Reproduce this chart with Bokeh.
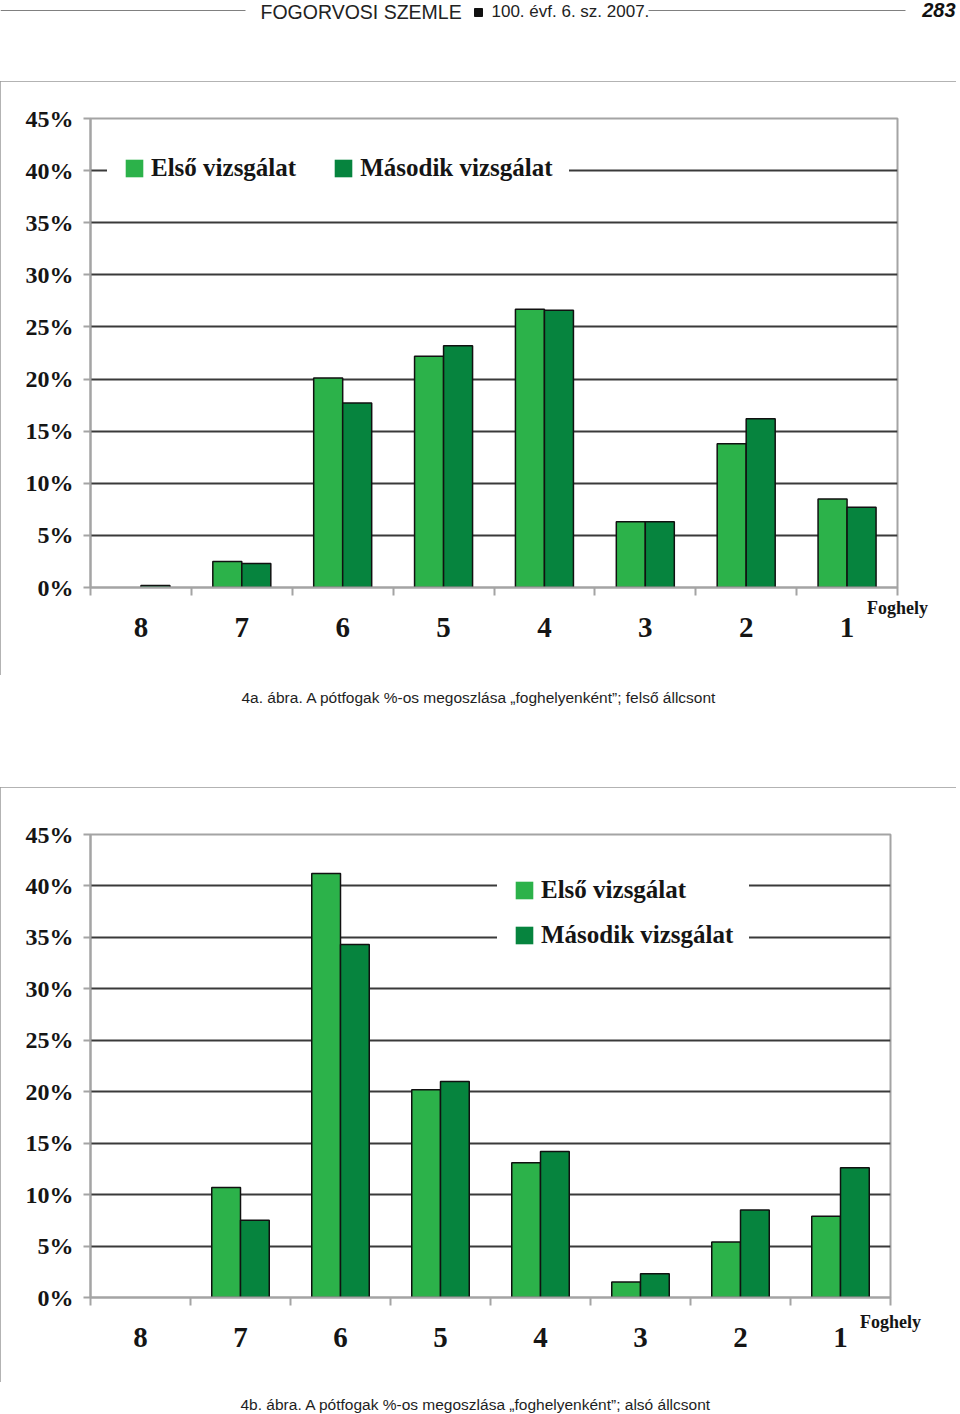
import numpy as np
from bokeh.plotting import figure
from bokeh.models import (ColumnDataSource, FixedTicker, Legend, LegendItem, Label,
                          Range1d, PrintfTickFormatter, CustomJSTickFormatter,
                          CDSView, BooleanFilter, LinearAxis)
from bokeh.transform import dodge
from bokeh.embed import file_html
from bokeh.resources import INLINE

# ---------------- data ----------------
categories = ["8", "7", "6", "5", "4", "3", "2", "1"]
series_names = ["Első vizsgálat", "Második vizsgálat"]
upper_first = [0.0, 2.5, 20.1, 22.2, 26.7, 6.3, 13.8, 8.5]
upper_second = [0.2, 2.3, 17.7, 23.2, 26.6, 6.3, 16.2, 7.7]
lower_first = [0.0, 10.7, 41.2, 20.2, 13.1, 1.5, 5.4, 7.9]
lower_second = [0.0, 7.5, 34.3, 21.0, 14.2, 2.3, 8.5, 12.6]
y_ticks = [0, 5, 10, 15, 20, 25, 30, 35, 40, 45]
axis_title = "Foghely"
header_title = "FOGORVOSI SZEMLE"
header_issue = "100. évf. 6. sz. 2007."
page_number = "283"
caption_a = "4a. ábra. A pótfogak %-os megoszlása „foghelyenként”; felső állcsont"
caption_b = "4b. ábra. A pótfogak %-os megoszlása „foghelyenként”;  alsó állcsont"

# ---------------- style ----------------
LIGHT = "#2cb24a"
DARK = "#06843e"
SERIF = "Liberation Serif"
SANS = "Liberation Sans"
GRAY = "#a4a4a4"
INK = "#151515"
W = 956
FRAME_CSS = {"outline": "1px solid #9a9a9a", "outline-offset": "-1px",
             "position": "relative", "z-index": "1"}


def make_chart(first, second, height, top, bottom, right, orientation, loc, spacing,
               title_standoff, cat_standoff):
    n = len(categories)
    centers = list(np.arange(n) + 0.5)
    src = ColumnDataSource(dict(x=centers, first=first, second=second))
    p = figure(width=W, height=height, x_range=Range1d(0, n), y_range=Range1d(0, 45),
               output_backend="svg", toolbar_location=None,
               min_border_left=90, min_border_right=right,
               min_border_top=top, min_border_bottom=bottom,
               background_fill_color="white", border_fill_color="white",
               styles=FRAME_CSS)
    bw = 0.2875
    v1 = CDSView(filter=BooleanFilter([v > 0 for v in first]))
    v2 = CDSView(filter=BooleanFilter([v > 0 for v in second]))
    p.vbar(x=dodge("x", -bw / 2, range=p.x_range), top="first", width=bw, source=src,
           view=v1, fill_color=LIGHT, line_color="#111111", line_width=1.5)
    p.vbar(x=dodge("x", bw / 2, range=p.x_range), top="second", width=bw, source=src,
           view=v2, fill_color=DARK, line_color="#111111", line_width=1.5)
    # legend proxies: zero-width bars (invisible), squares without outline in legend
    l1 = p.vbar(x="x", top="first", width=0, source=src, fill_color=LIGHT, line_color=None)
    l2 = p.vbar(x="x", top="second", width=0, source=src, fill_color=DARK, line_color=None)

    # y axis
    yax = p.yaxis[0]
    yax.ticker = FixedTicker(ticks=y_ticks)
    yax.formatter = PrintfTickFormatter(format="%d%%")
    yax.axis_line_color = GRAY
    yax.axis_line_width = 2
    yax.major_tick_line_color = GRAY
    yax.major_tick_line_width = 2
    yax.major_tick_out = 7
    yax.major_tick_in = 0
    yax.minor_tick_line_color = None
    yax.major_label_standoff = 10
    yax.major_label_text_font = SERIF
    yax.major_label_text_font_style = "bold"
    yax.major_label_text_font_size = "24px"
    yax.major_label_text_color = INK

    # x axis 1 (next to the frame): boundary ticks + "Foghely" at the right end
    xax = p.xaxis[0]
    xax.ticker = FixedTicker(ticks=[n], minor_ticks=list(range(n + 1)))
    xax.formatter = CustomJSTickFormatter(args=dict(t=axis_title), code="return t")
    xax.axis_line_color = GRAY
    xax.axis_line_width = 2
    xax.major_tick_line_color = None
    xax.major_tick_out = 0
    xax.major_tick_in = 0
    xax.minor_tick_line_color = GRAY
    xax.minor_tick_line_width = 2
    xax.minor_tick_out = 8
    xax.minor_tick_in = 0
    xax.major_label_standoff = title_standoff
    xax.major_label_text_font = SERIF
    xax.major_label_text_font_style = "bold"
    xax.major_label_text_font_size = "18px"
    xax.major_label_text_color = INK

    # x axis 2: tooth position labels at the category centres
    cat_axis = LinearAxis(ticker=FixedTicker(ticks=centers),
                          formatter=CustomJSTickFormatter(args=dict(cats=categories),
                                                          code="return cats[Math.floor(tick)] || ''"),
                          axis_line_color=None, major_tick_line_color=None,
                          minor_tick_line_color=None, major_tick_out=0, major_tick_in=0,
                          major_label_standoff=cat_standoff,
                          major_label_text_font=SERIF, major_label_text_font_style="bold",
                          major_label_text_font_size="29px", major_label_text_color=INK)
    p.add_layout(cat_axis, "below")

    p.xgrid.visible = False
    p.ygrid.ticker = FixedTicker(ticks=y_ticks[1:])
    p.ygrid.grid_line_color = "#3a3a3a"
    p.ygrid.grid_line_width = 2
    p.outline_line_color = GRAY
    p.outline_line_width = 2

    legend = Legend(items=[LegendItem(label=series_names[0], renderers=[l1]),
                           LegendItem(label=series_names[1], renderers=[l2])],
                    orientation=orientation, location=loc, margin=0, padding=15,
                    spacing=spacing, glyph_width=22, glyph_height=22, label_standoff=6,
                    label_height=30,
                    border_line_color="white", border_line_width=1,
                    background_fill_color="white", background_fill_alpha=1.0,
                    label_text_font=SERIF, label_text_font_style="bold",
                    label_text_font_size="25px", label_text_color=INK)
    p.add_layout(legend, "center")
    return p


def text_fig(height):
    p = figure(width=W, height=height, x_range=Range1d(0, W), y_range=Range1d(height, 0),
               output_backend="svg", toolbar_location=None, min_border=0,
               x_axis_location=None, y_axis_location=None,
               background_fill_color="white", border_fill_color="white")
    p.grid.visible = False
    p.outline_line_color = None
    return p


# header
header = text_fig(81)
header.segment(x0=[0, 648], y0=[10, 10], x1=[245, 905], y1=[10, 10],
               line_color="#808080", line_width=1)
header.add_layout(Label(x=260, y=11, text=header_title, text_font=SANS,
                        text_font_size="19.5px", text_color="#222222",
                        text_baseline="middle"))
header.scatter(x=[478], y=[12], marker="square", size=8, color="#111111")
header.add_layout(Label(x=491, y=11, text=header_issue, text_font=SANS,
                        text_font_size="17px", text_color="#222222",
                        text_baseline="middle"))
header.add_layout(Label(x=955, y=9, text=page_number, text_font=SANS,
                        text_font_size="20px", text_font_style="bold italic",
                        text_color="#111111", text_baseline="middle", text_align="right"))

chart_a = make_chart(upper_first, upper_second, 594, 37, 88, 59, "horizontal", (17, 388), 36,
                     2, -3)

cap_a = text_fig(112)
cap_a.add_layout(Label(x=241, y=22, text=caption_a, text_font=SANS, text_font_size="15.5px",
                       text_color="#1e1e1e", text_baseline="middle"))

chart_b = make_chart(lower_first, lower_second, 595, 47, 85, 66, "vertical", (407, 331), 15,
                     6, -7)

cap_b = text_fig(32)
cap_b.add_layout(Label(x=240, y=22, text=caption_b, text_font=SANS, text_font_size="15.5px",
                       text_color="#1e1e1e", text_baseline="middle"))

p = [header, chart_a, cap_a, chart_b, cap_b]

open("out.html", "w").write(file_html(p, INLINE))
